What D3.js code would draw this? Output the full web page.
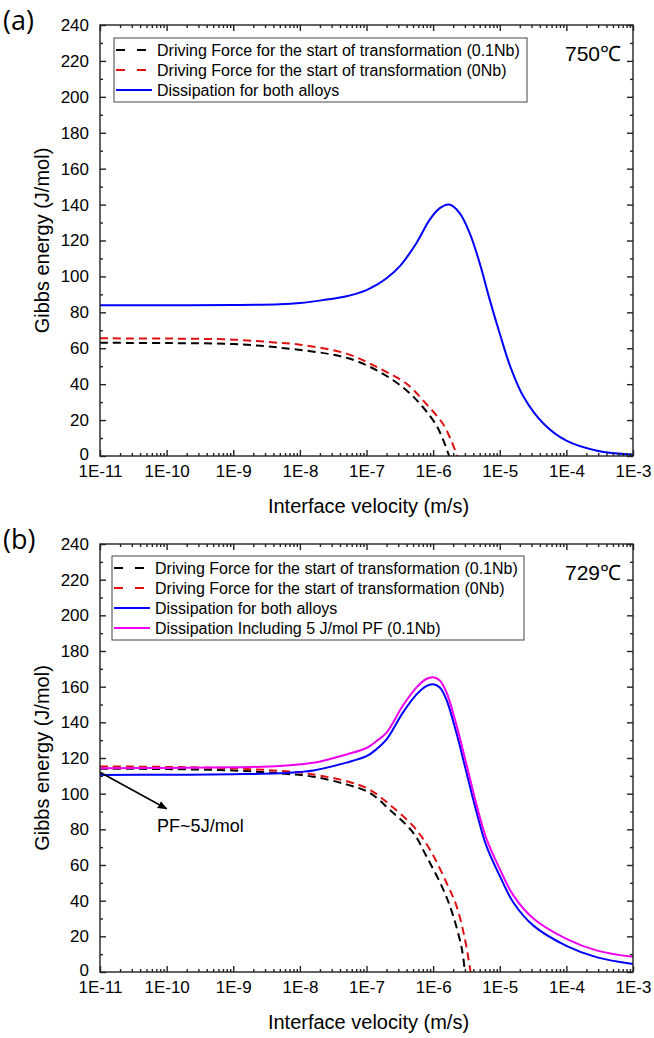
<!DOCTYPE html>
<html>
<head>
<meta charset="utf-8">
<script src="https://cdn.jsdelivr.net/npm/d3@7"></script>
<style>
  body { margin: 0; background: #fff; }
  svg text { font-family: "Liberation Sans", Arial, sans-serif; fill: #000; }
</style>
</head>
<body>
<svg id="chart" width="654" height="1038"></svg>
<script>
// ---- data: [interface velocity (m/s), Gibbs energy (J/mol)] ----
// panel (a) 750 C
const aDrive01Nb = [[1e-11, 63.0], [1e-10, 62.9], [1e-9, 62.3], [5e-9, 60.3], [5e-8, 54.7], [1.6e-7, 46.7],
  [4e-7, 36.5], [7.1e-7, 27.0], [1.12e-6, 17.0], [1.45e-6, 8.0], [1.74e-6, 0]];
const aDrive0Nb = [[1e-11, 65.5], [1e-10, 65.4], [1e-9, 64.8], [5e-9, 63.0], [1e-8, 62.0], [5e-8, 57.0],
  [1.6e-7, 48.6], [4e-7, 40.2], [7.9e-7, 29.0], [1.41e-6, 17.8], [1.9e-6, 8.0], [2.3e-6, 0]];
const aDissip = [[1e-11, 84.0], [1e-10, 84.0], [1e-9, 84.1], [5e-9, 84.5], [1e-8, 85.2], [2.2e-8, 86.8],
  [5e-8, 89.0], [1e-7, 92.4], [1.4e-7, 95.2], [2e-7, 99.0], [3.2e-7, 105.9], [5.6e-7, 118.5], [8.9e-7, 131.6],
  [1.26e-6, 138.0], [1.74e-6, 140.0], [2.5e-6, 135.3], [3.55e-6, 124.0], [5e-6, 107.4], [7.1e-6, 86.8],
  [1e-5, 68.2], [1.45e-5, 49.5], [2.3e-5, 32.7], [4.6e-5, 17.8], [1e-4, 8.5], [2.9e-4, 2.9], [1e-3, 0.7]];

// panel (b) 729 C
const bDrive01Nb = [[1e-11, 114.0], [1e-10, 113.8], [1e-9, 113.0], [5e-9, 111.4], [1.6e-8, 109.5], [5e-8, 105.2],
  [1.1e-7, 100.6], [2.2e-7, 91.2], [5e-7, 78.2], [7.9e-7, 65.0], [1.41e-6, 46.5], [2e-6, 31.5],
  [2.7e-6, 12.9], [3e-6, 0]];
const bDrive0Nb = [[1e-11, 115.3], [1e-10, 115.0], [1e-9, 114.2], [5e-9, 112.8], [1e-8, 111.9], [1.6e-8, 110.8],
  [5e-8, 107.0], [1.1e-7, 102.4], [2.2e-7, 94.0], [5e-7, 81.9], [8.9e-7, 68.8], [1.58e-6, 50.2],
  [2.24e-6, 37.1], [3e-6, 18.5], [3.65e-6, 0]];
const bDissip = [[1e-11, 110.5], [1e-10, 110.6], [1e-9, 110.9], [5e-9, 111.4], [1e-8, 112.2], [1.6e-8, 113.0],
  [5e-8, 117.4], [1e-7, 121.0], [1.4e-7, 124.8], [2e-7, 130.4], [3.5e-7, 145.3], [5.6e-7, 155.5], [7.9e-7, 160.3],
  [1e-6, 161.3], [1.26e-6, 159.5], [1.58e-6, 152.8], [2.24e-6, 134.0], [3.16e-6, 112.0], [4.5e-6, 89.4],
  [6.3e-6, 70.7], [1e-5, 53.9], [1.6e-5, 39.0], [3.2e-5, 26.0], [1e-4, 14.7], [2.9e-4, 8.2], [1e-3, 4.5]];
const bDissipPF = [[1e-11, 114.3], [1e-10, 114.4], [1e-9, 114.8], [5e-9, 115.5], [1e-8, 116.5], [1.6e-8, 117.3],
  [5e-8, 122.0], [1e-7, 125.6], [1.4e-7, 129.4], [2e-7, 134.2], [3.5e-7, 149.3], [5.6e-7, 159.5], [7.9e-7, 164.3],
  [1e-6, 165.3], [1.26e-6, 163.5], [1.58e-6, 157.0], [2.24e-6, 138.5], [3.16e-6, 116.5], [4.5e-6, 93.5],
  [6.3e-6, 74.8], [1e-5, 57.8], [1.6e-5, 43.0], [3.2e-5, 30.0], [1e-4, 18.6], [2.9e-4, 12.0], [1e-3, 8.5]];

// axes
const xDomain = [1e-11, 1e-3];
const xMajor = [1e-11, 1e-10, 1e-9, 1e-8, 1e-7, 1e-6, 1e-5, 1e-4, 1e-3];
const xLabels = ["1E-11", "1E-10", "1E-9", "1E-8", "1E-7", "1E-6", "1E-5", "1E-4", "1E-3"];
const yDomain = [0, 240];
const yMajor = d3.range(0, 241, 20);
const yMinor = d3.range(10, 240, 20);

const legendA = ["Driving Force for the start of transformation (0.1Nb)",
  "Driving Force for the start of transformation (0Nb)",
  "Dissipation for both alloys"];
const legendB = legendA.concat(["Dissipation Including 5 J/mol PF (0.1Nb)"]);

let svg = d3.select("#chart");
let left = 100, right = 633;

// minor ticks 2..9 for every decade
let xMinor = [];
for (let e = -11; e < -3; e++) {
  for (let m = 2; m <= 9; m++) xMinor.push(m * Math.pow(10, e));
}

function styles(name) {
  if (name === "d01") return { color: "#000000", dash: "8,5" };
  if (name === "d0") return { color: "#e01010", dash: "8,5" };
  if (name === "dis") return { color: "#0000ff", dash: null };
  return { color: "#ee00ee", dash: null };
}

function drawPanel(cfg) {
  let x = d3.scaleLog().domain(xDomain).range([left, right]);
  let y = d3.scaleLinear().domain(yDomain).range([cfg.bottom, cfg.top]);
  let g = svg.append("g");

  // curves
  let line = d3.line().x(d => x(d[0])).y(d => y(d[1])).curve(d3.curveCatmullRom.alpha(0.5));
  cfg.series.forEach(s => {
    let st = styles(s.key);
    g.append("path")
      .attr("d", line(s.data))
      .attr("fill", "none")
      .attr("stroke", st.color)
      .attr("stroke-width", 2)
      .attr("stroke-dasharray", st.dash);
  });

  // frame
  g.append("rect")
    .attr("x", left).attr("y", cfg.top)
    .attr("width", right - left).attr("height", cfg.bottom - cfg.top)
    .attr("fill", "none").attr("stroke", "#222").attr("stroke-width", 1.4);

  // bottom axis with labels
  let bottomAx = g.append("g").attr("transform", `translate(0,${cfg.bottom})`)
    .call(d3.axisBottom(x).tickValues(xMajor).tickFormat((d, i) => xLabels[i])
      .tickSizeInner(-6).tickSizeOuter(0).tickPadding(9));
  bottomAx.selectAll("text").attr("font-size", 17);
  g.append("g").attr("transform", `translate(0,${cfg.bottom})`)
    .call(d3.axisBottom(x).tickValues(xMinor).tickFormat("").tickSizeInner(-3).tickSizeOuter(0));
  // top axis (mirror)
  g.append("g").attr("transform", `translate(0,${cfg.top})`)
    .call(d3.axisTop(x).tickValues(xMajor).tickFormat("").tickSizeInner(-6).tickSizeOuter(0));
  g.append("g").attr("transform", `translate(0,${cfg.top})`)
    .call(d3.axisTop(x).tickValues(xMinor).tickFormat("").tickSizeInner(-3).tickSizeOuter(0));

  // left axis with labels
  let leftAx = g.append("g").attr("transform", `translate(${left},0)`)
    .call(d3.axisLeft(y).tickValues(yMajor).tickSizeInner(-6).tickSizeOuter(0).tickPadding(11));
  leftAx.selectAll("text").attr("font-size", 17);
  // nudge the 0 label up a little so it clears the x labels
  leftAx.selectAll(".tick text").filter(d => d === 0).attr("dy", "0.2em");
  g.append("g").attr("transform", `translate(${left},0)`)
    .call(d3.axisLeft(y).tickValues(yMinor).tickFormat("").tickSizeInner(-3).tickSizeOuter(0));
  // right axis (mirror)
  g.append("g").attr("transform", `translate(${right},0)`)
    .call(d3.axisRight(y).tickValues(yMajor).tickFormat("").tickSizeInner(-6).tickSizeOuter(0));
  g.append("g").attr("transform", `translate(${right},0)`)
    .call(d3.axisRight(y).tickValues(yMinor).tickFormat("").tickSizeInner(-3).tickSizeOuter(0));

  g.selectAll(".domain").attr("stroke", "none");
  g.selectAll(".tick line").attr("stroke", "#222").attr("stroke-width", 1.4);

  // axis titles
  g.append("text")
    .attr("x", (left + right) / 2 + 2).attr("y", cfg.bottom + 50)
    .attr("text-anchor", "middle").attr("dominant-baseline", "central")
    .attr("font-size", 20)
    .text("Interface velocity (m/s)");
  g.append("text")
    .attr("transform", `translate(42,${(cfg.top + cfg.bottom) / 2}) rotate(-90)`)
    .attr("text-anchor", "middle").attr("dominant-baseline", "central")
    .attr("font-size", 20)
    .text("Gibbs energy (J/mol)");

  // panel letter
  g.append("text")
    .attr("x", 3).attr("y", cfg.top - 6)
    .attr("dominant-baseline", "central")
    .attr("font-size", 27)
    .style("font-family", "'Open Sans', 'Noto Sans', sans-serif")
    .text(cfg.letter);

  // temperature
  g.append("text")
    .attr("x", 621).attr("y", cfg.top + 28)
    .attr("text-anchor", "end").attr("dominant-baseline", "central")
    .attr("font-size", 21)
    .text(cfg.temp);

  // legend
  let lg = g.append("g");
  let rowH = 20;
  lg.append("rect")
    .attr("x", cfg.legX).attr("y", cfg.legY)
    .attr("width", cfg.legW).attr("height", rowH * cfg.legend.length + 4)
    .attr("fill", "#fff").attr("stroke", "#444").attr("stroke-width", 1);
  cfg.legend.forEach((label, i) => {
    let st = styles(cfg.series[i].key);
    let cy = cfg.legY + 12 + i * rowH;
    lg.append("line")
      .attr("x1", cfg.legX + 2).attr("x2", cfg.legX + 38)
      .attr("y1", cy).attr("y2", cy)
      .attr("stroke", st.color).attr("stroke-width", 2)
      .attr("stroke-dasharray", st.dash ? "9,12" : null);
    lg.append("text")
      .attr("x", cfg.legX + 43).attr("y", cy)
      .attr("dominant-baseline", "central")
      .attr("font-size", 16)
      .text(label);
  });

  return { x: x, y: y, g: g };
}

drawPanel({
  top: 25, bottom: 456, letter: "(a)", temp: "750\u2103",
  legX: 114, legY: 38, legW: 413, legend: legendA,
  series: [{ key: "d01", data: aDrive01Nb }, { key: "d0", data: aDrive0Nb }, { key: "dis", data: aDissip }]
});

let pb = drawPanel({
  top: 544, bottom: 972, letter: "(b)", temp: "729\u2103",
  legX: 112, legY: 556, legW: 412, legend: legendB,
  series: [{ key: "d01", data: bDrive01Nb }, { key: "d0", data: bDrive0Nb },
    { key: "dis", data: bDissip }, { key: "pf", data: bDissipPF }]
});

// annotation arrow in panel (b)
svg.append("defs").append("marker")
  .attr("id", "arrow").attr("viewBox", "0 0 10 10")
  .attr("refX", 9).attr("refY", 5)
  .attr("markerWidth", 6).attr("markerHeight", 6)
  .attr("orient", "auto")
  .append("path").attr("d", "M0,1 L10,5 L0,9 Z").attr("fill", "#000");

pb.g.append("line")
  .attr("x1", pb.x(1e-11)).attr("y1", pb.y(112))
  .attr("x2", pb.x(1e-10)).attr("y2", pb.y(91.5))
  .attr("stroke", "#000").attr("stroke-width", 1.6)
  .attr("marker-end", "url(#arrow)");
pb.g.append("text")
  .attr("x", pb.x(7.2e-11)).attr("y", pb.y(82))
  .attr("dominant-baseline", "central")
  .attr("font-size", 18)
  .text("PF~5J/mol");
</script>
</body>
</html>
